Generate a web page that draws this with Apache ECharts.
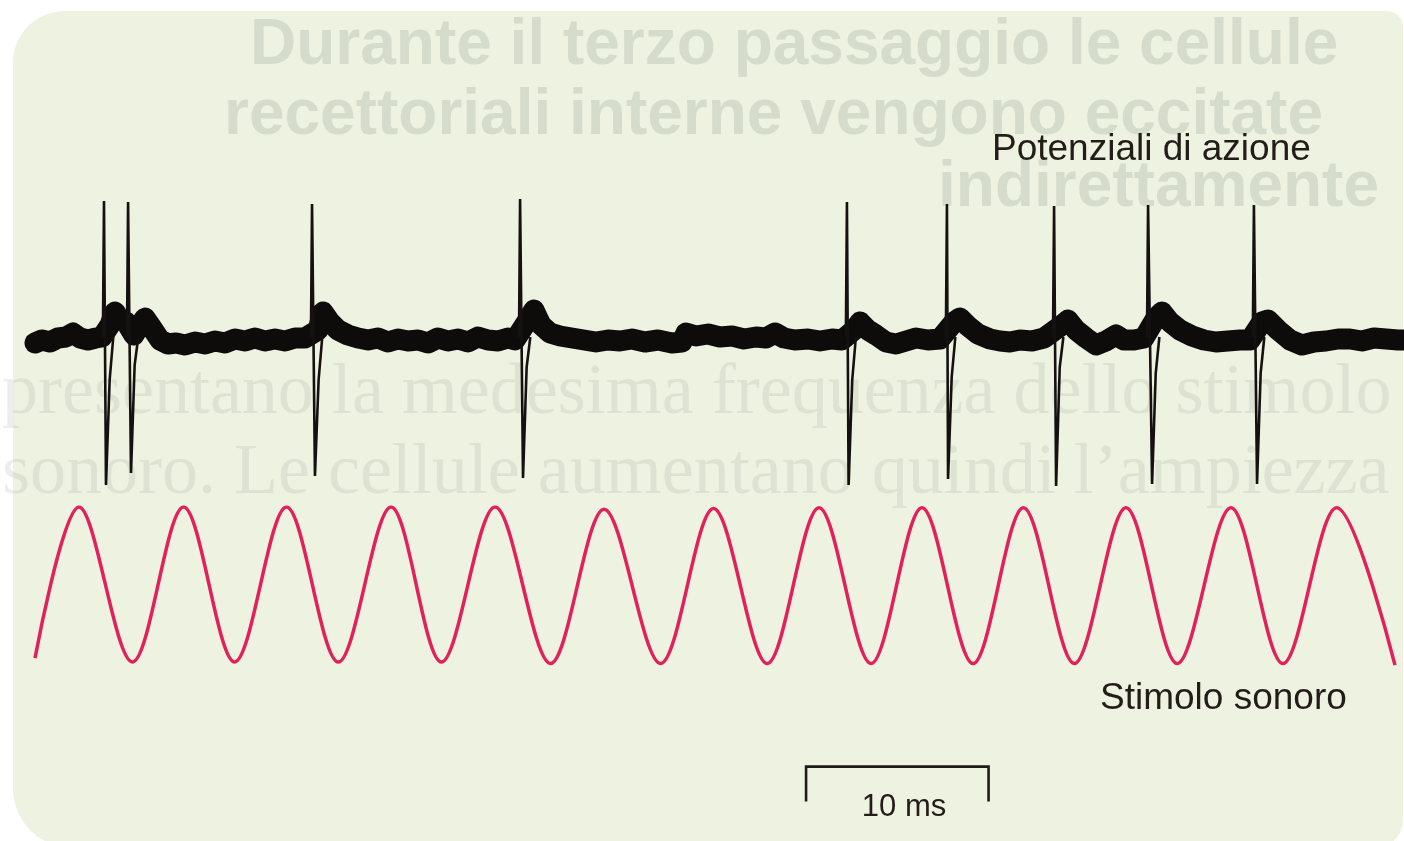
<!DOCTYPE html>
<html>
<head>
<meta charset="utf-8">
<script src="https://cdn.jsdelivr.net/npm/echarts@6/dist/echarts.min.js"></script>
<style>
  html, body { margin: 0; padding: 0; background: #ffffff; }
  #chart { width: 1404px; height: 841px; }
</style>
</head>
<body>
<div id="chart"></div>
<script>
// tempo in ms (scala: barra di 10 ms)

// traccia dei potenziali: linea di base (tempo, ampiezza)
const traceT = [0.00, 0.38, 0.82, 1.26, 1.70, 2.08, 2.47, 2.90, 3.34, 3.67,
  4.11, 4.38, 4.66, 4.99, 5.42, 5.75, 6.03, 6.41, 6.85, 7.29,
  7.73, 8.22, 8.77, 9.32, 9.86, 10.41, 10.96, 11.51, 12.05, 12.60,
  13.15, 13.70, 14.25, 14.79, 15.51, 15.78, 16.16, 16.60, 17.15, 17.70,
  18.25, 18.79, 19.34, 19.89, 20.44, 20.99, 21.53, 22.08, 22.63, 23.18,
  23.73, 24.27, 24.82, 25.37, 25.92, 26.30, 27.01, 27.34, 27.73, 28.22,
  28.77, 29.42, 30.08, 30.74, 31.40, 32.05, 32.71, 33.42, 34.14, 34.90,
  35.45, 35.67, 36.22, 36.88, 37.53, 38.19, 38.85, 39.51, 40.05, 40.55,
  41.04, 41.64, 42.36, 43.01, 43.67, 44.22, 44.88, 45.21, 45.64, 46.08,
  46.63, 47.18, 47.73, 48.27, 48.93, 49.59, 50.36, 50.68, 51.12, 51.67,
  52.33, 52.88, 53.42, 53.97, 54.63, 55.29, 56.27, 56.60, 57.04, 57.59,
  58.14, 58.68, 59.23, 59.67, 60.22, 60.77, 61.42, 61.75, 62.19, 62.74,
  63.40, 64.05, 64.71, 65.37, 66.03, 66.58, 67.23, 67.56, 68.11, 68.77,
  69.42, 70.08, 70.74, 71.40, 72.05, 72.71, 73.37, 74.03, 74.68, 75.00];
const traceV = [2, 5, 3, 7, 8, 12, 7, 5, 7, 8,
  20, 33, 25, 23, 10, 20, 27, 17, 5, 1,
  2, 0, 3, 1, 4, 2, 6, 4, 7, 4,
  6, 4, 7, 7, 15, 33, 23, 15, 10, 7,
  5, 7, 3, 6, 4, 5, 2, 7, 4, 6,
  3, 8, 5, 4, 7, 5, 25, 35, 20, 12,
  9, 7, 5, 3, 5, 4, 6, 3, 5, 2,
  3, 12, 9, 11, 8, 9, 6, 8, 7, 12,
  7, 5, 6, 4, 6, 5, 15, 23, 15, 10,
  3, 1, 4, 7, 5, 6, 23, 27, 19, 11,
  6, 4, 3, 5, 4, 7, 20, 25, 15, 7,
  0, 4, 10, 5, 5, 7, 27, 33, 23, 15,
  9, 5, 3, 4, 5, 5, 23, 25, 15, 5,
  0, 3, 4, 6, 6, 4, 7, 6, 5, 5];

// potenziali d'azione
const spikeUp = [3.78, 5.10, 15.18, 26.58, 44.49, 49.97, 55.84, 60.99, 66.79];
const spikeDown = [3.89, 5.26, 15.34, 26.74, 44.58, 50.03, 55.95, 61.21, 66.96];
const spikeTop = [144, 143, 141, 146, 143, 141, 139, 140, 140];
const spikeBottom = [-140, -128, -131, -133, -140, -134, -141, -139, -139];
const spikeDip = [-35, -20, -35, -22, -35, -32, -22, -28, -28];

// stimolo sonoro: massimi e minimi
const stimT = [0, 2.41, 5.34, 8.14, 10.94, 13.78, 16.62, 19.51, 22.27, 25.21,
  28.25, 31.18, 34.28, 37.18, 40.12, 42.96, 45.81, 48.60, 51.40, 54.16,
  56.95, 59.78, 62.59, 65.53, 68.38, 71.32, 74.52];
const stimV = [-0.95, 1, -1, 1, -1, 1, -1, 1, -1, 1,
  -1.02, 0.97, -1.02, 0.98, -1.02, 0.99, -1.02, 0.99, -1.02, 0.99,
  -1.02, 0.99, -1.02, 0.99, -1.02, 0.99, -1.04];

// barra di scala
const scaleStart = 42.25;
const scaleLen = 10;

const labels = ['Potenziali di azione', 'Stimolo sonoro', '10 ms'];

// testo della pagina sottostante che traspare
const ghostHead = ['Durante il terzo passaggio le cellule',
  'recettoriali interne vengono eccitate', 'indirettamente'];
const ghostBody = ['presentano la medesima frequenza dello stimolo',
  'sonoro. Le cellule aumentano quindi l\u2019ampiezza'];

const chart = echarts.init(document.getElementById('chart'), null, { renderer: 'canvas' });

const traceData = traceT.map((t, i) => [t, traceV[i]]);
const stimData = stimT.map((t, i) => [t, stimV[i]]);

const spikeSeries = spikeUp.map((t, i) => ({
  type: 'line',
  xAxisIndex: 0, yAxisIndex: 0,
  symbol: 'none',
  silent: true,
  z: 4,
  lineStyle: { color: '#141110', width: 2.6, join: 'miter' },
  data: [
    [t - 0.06, 8],
    [t, spikeTop[i]],
    [spikeDown[i], spikeBottom[i]],
    [spikeDown[i] + 0.2, spikeDip[i]],
    [spikeDown[i] + 0.4, 8]
  ]
}));

const font = "'Liberation Sans', Arial, Helvetica, sans-serif";
const serif = "'Liberation Serif', 'DejaVu Serif', serif";
const textColor = '#231d1a';
const ghostHeadColor = 'rgba(140,150,140,0.24)';
const ghostBodyColor = 'rgba(140,150,140,0.17)';

const option = {
  animation: false,
  backgroundColor: '#ffffff',
  grid: [
    { left: 35, top: 195, width: 1368.75, height: 300 },
    { left: 35, top: 507, width: 1368.75, height: 294.5 }
  ],
  xAxis: [
    { type: 'value', gridIndex: 0, min: 0, max: 75, show: false },
    { type: 'value', gridIndex: 1, min: 0, max: 75, show: false }
  ],
  yAxis: [
    { type: 'value', gridIndex: 0, min: -150, max: 150, show: false },
    { type: 'value', gridIndex: 1, min: -2.8, max: 1, show: false }
  ],
  graphic: [
    {
      type: 'rect', z: -100, silent: true,
      shape: { x: 13, y: 11, width: 1390, height: 837, r: [52, 16, 28, 60] },
      style: { fill: '#eef2e0' }
    },
    {
      type: 'text', z: -90, silent: true, left: 250, top: 14,
      style: { text: ghostHead[0], font: "bold 64px " + font, fill: ghostHeadColor }
    },
    {
      type: 'text', z: -90, silent: true, left: 224, top: 84,
      style: { text: ghostHead[1], font: "bold 64px " + font, fill: ghostHeadColor }
    },
    {
      type: 'text', z: -90, silent: true, left: 938, top: 156,
      style: { text: ghostHead[2], font: "bold 64px " + font, fill: ghostHeadColor }
    },
    {
      type: 'text', z: -90, silent: true, left: 2, top: 358,
      style: { text: ghostBody[0], font: '72px ' + serif, fill: ghostBodyColor }
    },
    {
      type: 'text', z: -90, silent: true, left: 2, top: 438,
      style: { text: ghostBody[1], font: '72px ' + serif, fill: ghostBodyColor }
    },
    {
      type: 'text', z: 100, x: 992, y: 150,
      style: { text: labels[0], font: '37px ' + font, fill: textColor, verticalAlign: 'middle' }
    },
    {
      type: 'text', z: 100, x: 1100, y: 699,
      style: { text: labels[1], font: '37px ' + font, fill: textColor, verticalAlign: 'middle' }
    },
    {
      type: 'text', z: 100, x: 904, y: 807,
      style: { text: labels[2], font: '31px ' + font, fill: textColor, align: 'center', verticalAlign: 'middle' }
    }
  ],
  series: [
    {
      name: 'Potenziali di azione',
      type: 'line',
      xAxisIndex: 0, yAxisIndex: 0,
      symbol: 'none',
      silent: true,
      z: 3,
      lineStyle: { color: '#0e0c0b', width: 21, join: 'round', cap: 'round' },
      data: traceData
    },
    ...spikeSeries,
    {
      name: 'Stimolo sonoro',
      type: 'line',
      xAxisIndex: 1, yAxisIndex: 1,
      symbol: 'none',
      silent: true,
      smooth: 0.33,
      z: 3,
      lineStyle: { color: '#e2205b', width: 3.5 },
      data: stimData
    },
    {
      name: 'scala',
      type: 'line',
      xAxisIndex: 1, yAxisIndex: 1,
      symbol: 'none',
      silent: true,
      clip: false,
      lineStyle: { color: '#1f1b18', width: 2.6, join: 'miter' },
      data: [
        [scaleStart, -2.8],
        [scaleStart, -2.35],
        [scaleStart + scaleLen, -2.35],
        [scaleStart + scaleLen, -2.8]
      ]
    }
  ]
};

chart.setOption(option);
</script>
</body>
</html>
